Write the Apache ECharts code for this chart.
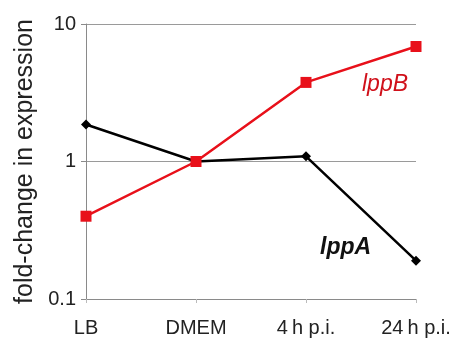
<!DOCTYPE html>
<html><head><meta charset="utf-8">
<script src="https://cdn.jsdelivr.net/npm/echarts@6/dist/echarts.min.js"></script>
<style>html,body{margin:0;padding:0;background:#fff}#c{width:453px;height:342px}</style>
</head><body><div id="c"></div>
<script>
const categories = ['LB', 'DMEM', '4\u2009h p.i.', '24\u2009h p.i.'];
const lppA = [1.86, 1.0, 1.09, 0.19];
const lppB = [0.40, 1.0, 3.76, 6.86];
const yTicks = [0.1, 1, 10];

const chart = echarts.init(document.getElementById('c'));
const font = '"Liberation Sans", Arial, sans-serif';
chart.setOption({
  animation: false,
  grid: {left: 86, right: 37, top: 24, bottom: 43, containLabel: false, outerBoundsMode: 'none'},
  xAxis: {
    type: 'category', data: categories, boundaryGap: false,
    axisLine: {lineStyle: {color: '#8a8a8a', width: 1}},
    axisTick: {show: true, length: 4, lineStyle: {color: '#bbb'}},
    axisLabel: {color: '#222', fontSize: 20, fontFamily: font, margin: 19, interval: 0, hideOverlap: false}
  },
  yAxis: {
    type: 'log', logBase: 10, min: yTicks[0], max: yTicks[2],
    name: 'fold-change in expression', nameLocation: 'middle', nameGap: 45,
    nameTextStyle: {color: '#222', fontSize: 25, fontFamily: font},
    axisLine: {show: true, lineStyle: {color: '#8a8a8a', width: 1}},
    axisTick: {show: true, length: 5, lineStyle: {color: '#8a8a8a'}},
    axisLabel: {color: '#222', fontSize: 20, fontFamily: font, margin: 10,
      formatter: v => (v < 1 ? v.toFixed(1) : String(Math.round(v)))},
    splitLine: {show: true, lineStyle: {color: '#9a9a9a', width: 1}}
  },
  series: [
    {name: 'lppA', type: 'line', data: lppA, symbol: 'diamond', symbolSize: 10,
      lineStyle: {color: '#000', width: 2.5}, itemStyle: {color: '#000'}, z: 3},
    {name: 'lppB', type: 'line', data: lppB, symbol: 'rect', symbolSize: 11,
      lineStyle: {color: '#e8101a', width: 2.5}, itemStyle: {color: '#e8101a'}, z: 4}
  ],
  graphic: [
    {type: 'text', left: 362, top: 73, style: {text: 'lppB', fill: '#d0101a', font: 'italic 23px ' + font}},
    {type: 'text', left: 320, top: 236, style: {text: 'lppA', fill: '#111', font: 'italic bold 23px ' + font}}
  ]
});
</script></body></html>
